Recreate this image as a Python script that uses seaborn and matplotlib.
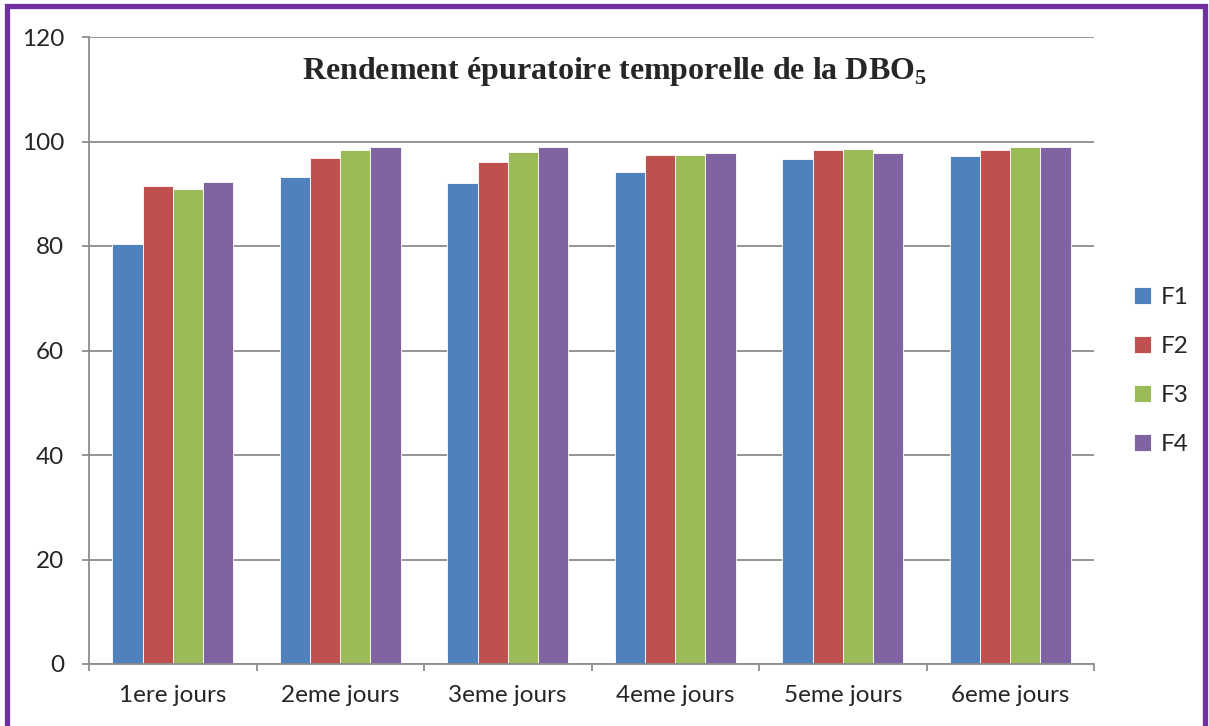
import pandas as pd
import matplotlib.pyplot as plt
from matplotlib.patches import Rectangle
import seaborn as sb

days = ['1ere jours', '2eme jours', '3eme jours', '4eme jours', '5eme jours', '6eme jours']
F1 = [80.3, 93.3, 92.0, 94.1, 96.6, 97.2]
F2 = [91.4, 96.9, 96.1, 97.5, 98.3, 98.3]
F3 = [91.0, 98.3, 98.0, 97.5, 98.6, 98.9]
F4 = [92.2, 98.9, 98.9, 97.8, 97.8, 98.9]
series = ['F1', 'F2', 'F3', 'F4']
colors = ['#4F81BD', '#C0504D', '#9BBB59', '#8064A2']

rows = []
for name, vals in zip(series, [F1, F2, F3, F4]):
    for d, v in zip(days, vals):
        rows.append({'Jour': d, 'Rendement': v, 'Filtre': name})
df = pd.DataFrame(rows)

sb.set_style('white')
plt.rcParams['font.family'] = ['Lato', 'DejaVu Sans']
plt.rcParams['mathtext.fontset'] = 'custom'
plt.rcParams['mathtext.rm'] = 'Liberation Serif:bold'

fig = plt.figure(figsize=(12.09, 7.26), dpi=100)
ax = fig.add_axes([89 / 1209, 1 - 664 / 726, (1094 - 89) / 1209, (664 - 37) / 726])

sb.barplot(data=df, x='Jour', y='Rendement', hue='Filtre', palette=colors,
           width=0.72, gap=0, saturation=1, edgecolor='white', linewidth=0.6, ax=ax)

ax.set_ylim(0, 120)
ax.set_xlim(-0.5, 5.5)
ax.set_yticks(range(0, 121, 20))
ax.yaxis.grid(True, color='#8c8c8c', linewidth=1.3)
ax.set_axisbelow(True)
ax.set_xlabel('')
ax.set_ylabel('')
for s in ['top', 'right']:
    ax.spines[s].set_visible(False)
for s in ['left', 'bottom']:
    ax.spines[s].set_color('#8c8c8c')
    ax.spines[s].set_linewidth(1.3)

ax.set_xticks([i - 0.5 for i in range(7)], minor=True)
ax.tick_params(axis='x', which='major', length=0, pad=15, labelsize=17.5)
ax.tick_params(axis='x', which='minor', length=5, color='#8c8c8c', width=1.3, direction='out', bottom=True)
ax.tick_params(axis='y', length=5, color='#8c8c8c', width=1.3, left=True, pad=13, labelsize=17.5)

leg = ax.legend(loc='center left', bbox_to_anchor=(1134 / 1209, 1 - 371 / 726),
                bbox_transform=fig.transFigure, frameon=False, fontsize=17.5, borderpad=0,
                borderaxespad=0, handlelength=0.7, handleheight=0.7, handletextpad=0.4,
                labelspacing=1.15)

fig.text(615 / 1209, 1 - 72 / 726, 'Rendement épuratoire temporelle de la DBO$_{5}$',
         ha='center', va='center', family='Liberation Serif', fontweight='bold', fontsize=23)

fig.patches.append(Rectangle((6.5 / 1209, -0.02), (1205 - 6.5) / 1209, 1.02 - 6.5 / 726,
                             transform=fig.transFigure, fill=False, edgecolor='#7030A0',
                             linewidth=3.8, zorder=10))

plt.savefig('out.png', dpi=100)
